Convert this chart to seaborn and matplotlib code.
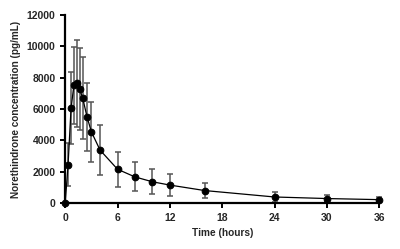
import numpy as np
import pandas as pd
import matplotlib.pyplot as plt
import seaborn as sns

# mean norethindrone concentration and SD
time_h = [0, 0.33, 0.67, 1, 1.33, 1.67, 2, 2.5, 3, 4, 6, 8, 10, 12, 16, 24, 30, 36]
conc_mean = [0, 2450, 6030, 7520, 7630, 7250, 6710, 5500, 4540, 3370, 2150, 1660, 1350, 1140, 790, 380, 280, 210]
conc_sd = [0, 1350, 2300, 2450, 2770, 2620, 2620, 2170, 1920, 1600, 1120, 930, 800, 680, 470, 300, 230, 150]

df = pd.DataFrame({'time': time_h, 'mean': conc_mean, 'sd': conc_sd})

sns.set_style('ticks')
plt.rcParams['font.family'] = ['Liberation Sans', 'DejaVu Sans']
plt.rcParams['font.weight'] = 'bold'

fig = plt.figure(figsize=(4.0, 2.49), dpi=100)
ax = fig.add_axes([0.163, 0.185, 0.785, 0.755])

ax.errorbar(df['time'], df['mean'], yerr=df['sd'], fmt='none', ecolor='#555555',
            elinewidth=1.1, capsize=2.2, capthick=1.1, zorder=2, clip_on=False)
sns.lineplot(data=df, x='time', y='mean', ax=ax, color='black', linewidth=0.9,
             marker='o', markersize=4.8, markeredgecolor='black', zorder=3, clip_on=False)

ax.set_xlim(0, 36)
ax.set_ylim(0, 12000)
ax.set_xticks(np.arange(0, 37, 6))
ax.set_yticks(np.arange(0, 12001, 2000))
ax.set_xlabel('Time (hours)', fontsize=7.3, fontweight='bold')
ax.set_ylabel('Norethindrone concentration (pg/mL)', fontsize=7.2, fontweight='bold')
ax.tick_params(labelsize=7.5, width=1.4, length=3.5, color='black')
for lab in ax.get_xticklabels() + ax.get_yticklabels():
    lab.set_fontweight('bold')
for side in ['left', 'bottom']:
    ax.spines[side].set_linewidth(1.6)
    ax.spines[side].set_color('black')
sns.despine(ax=ax)

fig.savefig('out.png', dpi=100)
